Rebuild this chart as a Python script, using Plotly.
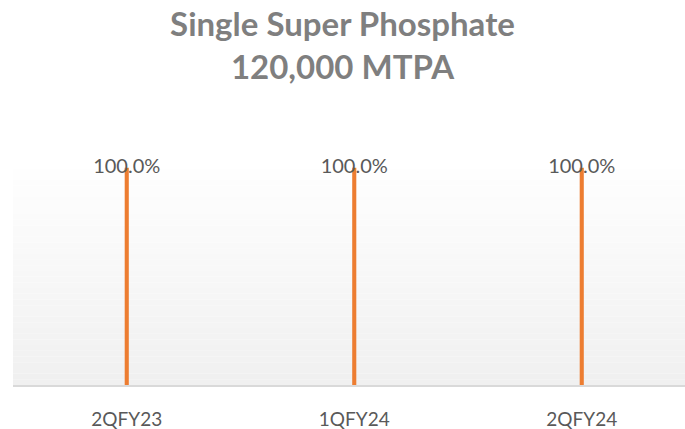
import plotly.graph_objects as go

categories = ["2QFY23", "1QFY24", "2QFY24"]
utilisation = [100.0, 100.0, 100.0]
labels = [f"{v:.1f}%" for v in utilisation]

FONT = "Lato"
fig = go.Figure()
fig.add_trace(go.Bar(x=categories, y=utilisation, width=0.018,
                     marker=dict(color="#ED7D31", line=dict(width=0)),
                     hoverinfo="skip"))
fig.add_trace(go.Scatter(x=categories, y=utilisation, mode="text", text=labels,
                         textposition="middle center",
                         textfont=dict(family=FONT, size=20, color="#595959"),
                         hoverinfo="skip"))

# vertical gradient background (white at top -> light gray at bottom)
n = 40
shapes = []
for i in range(n):
    t = i / (n - 1)
    c = int(round(255 - (255 - 240) * (1 - t)))
    shapes.append(dict(type="rect", xref="x domain", yref="y domain",
                       x0=0, x1=1, y0=i / n, y1=(i + 1) / n,
                       fillcolor=f"rgb({c},{c},{c})", line=dict(width=0),
                       layer="below"))

fig.update_layout(
    width=685, height=429,
    margin=dict(l=13, r=0, t=157, b=44),
    paper_bgcolor="white", plot_bgcolor="white",
    showlegend=False,
    shapes=shapes,
    title=dict(text="<b>Single Super Phosphate<br>120,000 MTPA</b>",
               x=0.5, xanchor="center", y=0.915, yanchor="top",
               font=dict(family=FONT, size=33, color="#7F7F7F")),
    xaxis=dict(type="category", range=[-0.5, -0.5 + 672 / 227.5],
               showgrid=False, showline=True, linecolor="#D9D9D9", linewidth=2,
               ticks="", tickfont=dict(family=FONT, size=19, color="#595959"),
               ticklabelstandoff=16),
    yaxis=dict(range=[0, 105], visible=False, showgrid=False),
)
fig.write_html("out.html", config={"displayModeBar": False},
               post_script="document.body.style.margin='0';")
